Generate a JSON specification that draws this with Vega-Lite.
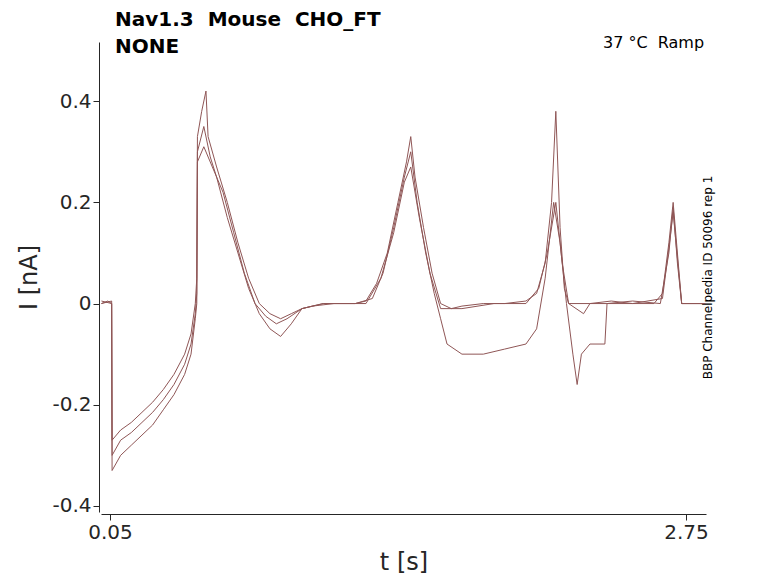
{
  "$schema": "https://vega.github.io/schema/vega-lite/v6.json",
  "autosize": "none",
  "width": 605,
  "height": 470,
  "padding": {"left": 101, "top": 42, "right": 72, "bottom": 71},
  "background": "white",
  "config": {
    "view": {"stroke": null},
    "font": "DejaVu Sans",
    "axis": {"labelFontSize": 20, "titleFontSize": 24, "labelColor": "#262626", "titleColor": "#262626", "titleFontWeight": "normal", "grid": false, "domainColor": "#262626", "tickColor": "#262626"}
  },
  "title": {
    "text": ["Nav1.3\u00a0\u00a0Mouse\u00a0\u00a0CHO_FT", "NONE"],
    "anchor": "start",
    "frame": "group",
    "dx": 14,
    "offset": -22,
    "fontSize": 20,
    "fontWeight": "bold",
    "lineHeight": 27,
    "color": "black"
  },
  "datasets": {
    "traces": [
      {"s": "a", "t": 0.01, "i": 0.0}, {"s": "a", "t": 0.04, "i": 0.005}, {"s": "a", "t": 0.058, "i": 0.0},
      {"s": "a", "t": 0.06, "i": -0.27}, {"s": "a", "t": 0.1, "i": -0.25}, {"s": "a", "t": 0.15, "i": -0.235},
      {"s": "a", "t": 0.2, "i": -0.215}, {"s": "a", "t": 0.25, "i": -0.195}, {"s": "a", "t": 0.3, "i": -0.17},
      {"s": "a", "t": 0.35, "i": -0.14}, {"s": "a", "t": 0.4, "i": -0.1}, {"s": "a", "t": 0.43, "i": -0.06},
      {"s": "a", "t": 0.45, "i": 0.0}, {"s": "a", "t": 0.457, "i": 0.05}, {"s": "a", "t": 0.46, "i": 0.33},
      {"s": "a", "t": 0.48, "i": 0.38}, {"s": "a", "t": 0.5, "i": 0.42}, {"s": "a", "t": 0.51, "i": 0.33},
      {"s": "a", "t": 0.55, "i": 0.27}, {"s": "a", "t": 0.6, "i": 0.2}, {"s": "a", "t": 0.65, "i": 0.12},
      {"s": "a", "t": 0.7, "i": 0.05}, {"s": "a", "t": 0.75, "i": 0.0}, {"s": "a", "t": 0.8, "i": -0.02},
      {"s": "a", "t": 0.85, "i": -0.03}, {"s": "a", "t": 0.9, "i": -0.02}, {"s": "a", "t": 0.95, "i": -0.01},
      {"s": "a", "t": 1.0, "i": -0.005}, {"s": "a", "t": 1.1, "i": 0.0}, {"s": "a", "t": 1.2, "i": 0.0},
      {"s": "a", "t": 1.25, "i": 0.005}, {"s": "a", "t": 1.3, "i": 0.04}, {"s": "a", "t": 1.35, "i": 0.1},
      {"s": "a", "t": 1.4, "i": 0.2}, {"s": "a", "t": 1.44, "i": 0.28}, {"s": "a", "t": 1.46, "i": 0.33},
      {"s": "a", "t": 1.48, "i": 0.25}, {"s": "a", "t": 1.52, "i": 0.15}, {"s": "a", "t": 1.56, "i": 0.06},
      {"s": "a", "t": 1.6, "i": 0.0}, {"s": "a", "t": 1.65, "i": -0.01}, {"s": "a", "t": 1.7, "i": -0.005},
      {"s": "a", "t": 1.8, "i": 0.0}, {"s": "a", "t": 1.9, "i": 0.0}, {"s": "a", "t": 2.0, "i": 0.005},
      {"s": "a", "t": 2.05, "i": 0.02}, {"s": "a", "t": 2.09, "i": 0.08}, {"s": "a", "t": 2.12, "i": 0.2},
      {"s": "a", "t": 2.14, "i": 0.38}, {"s": "a", "t": 2.16, "i": 0.15}, {"s": "a", "t": 2.18, "i": 0.03},
      {"s": "a", "t": 2.2, "i": 0.0}, {"s": "a", "t": 2.3, "i": 0.0}, {"s": "a", "t": 2.4, "i": 0.005},
      {"s": "a", "t": 2.5, "i": 0.0}, {"s": "a", "t": 2.6, "i": 0.0}, {"s": "a", "t": 2.64, "i": 0.02},
      {"s": "a", "t": 2.67, "i": 0.12}, {"s": "a", "t": 2.69, "i": 0.2}, {"s": "a", "t": 2.71, "i": 0.1},
      {"s": "a", "t": 2.73, "i": 0.0}, {"s": "a", "t": 2.8, "i": 0.0}, {"s": "a", "t": 2.84, "i": 0.0},

      {"s": "b", "t": 0.01, "i": 0.005}, {"s": "b", "t": 0.058, "i": 0.0}, {"s": "b", "t": 0.06, "i": -0.33},
      {"s": "b", "t": 0.1, "i": -0.3}, {"s": "b", "t": 0.15, "i": -0.28}, {"s": "b", "t": 0.2, "i": -0.26},
      {"s": "b", "t": 0.25, "i": -0.24}, {"s": "b", "t": 0.3, "i": -0.21}, {"s": "b", "t": 0.35, "i": -0.18},
      {"s": "b", "t": 0.4, "i": -0.14}, {"s": "b", "t": 0.43, "i": -0.1}, {"s": "b", "t": 0.45, "i": -0.03},
      {"s": "b", "t": 0.457, "i": 0.0}, {"s": "b", "t": 0.46, "i": 0.3}, {"s": "b", "t": 0.49, "i": 0.35},
      {"s": "b", "t": 0.52, "i": 0.29}, {"s": "b", "t": 0.55, "i": 0.25}, {"s": "b", "t": 0.6, "i": 0.17},
      {"s": "b", "t": 0.65, "i": 0.1}, {"s": "b", "t": 0.7, "i": 0.03}, {"s": "b", "t": 0.75, "i": -0.02},
      {"s": "b", "t": 0.8, "i": -0.05}, {"s": "b", "t": 0.85, "i": -0.065}, {"s": "b", "t": 0.9, "i": -0.04},
      {"s": "b", "t": 0.95, "i": -0.01}, {"s": "b", "t": 1.05, "i": 0.0}, {"s": "b", "t": 1.2, "i": 0.0},
      {"s": "b", "t": 1.28, "i": 0.01}, {"s": "b", "t": 1.33, "i": 0.06}, {"s": "b", "t": 1.38, "i": 0.15},
      {"s": "b", "t": 1.43, "i": 0.25}, {"s": "b", "t": 1.46, "i": 0.3}, {"s": "b", "t": 1.49, "i": 0.2},
      {"s": "b", "t": 1.53, "i": 0.1}, {"s": "b", "t": 1.57, "i": 0.02}, {"s": "b", "t": 1.6, "i": -0.03},
      {"s": "b", "t": 1.63, "i": -0.08}, {"s": "b", "t": 1.7, "i": -0.1}, {"s": "b", "t": 1.8, "i": -0.1},
      {"s": "b", "t": 1.9, "i": -0.09}, {"s": "b", "t": 2.0, "i": -0.08}, {"s": "b", "t": 2.05, "i": -0.05},
      {"s": "b", "t": 2.09, "i": 0.05}, {"s": "b", "t": 2.13, "i": 0.2}, {"s": "b", "t": 2.16, "i": 0.12},
      {"s": "b", "t": 2.19, "i": 0.0}, {"s": "b", "t": 2.22, "i": -0.1}, {"s": "b", "t": 2.24, "i": -0.16},
      {"s": "b", "t": 2.26, "i": -0.1}, {"s": "b", "t": 2.3, "i": -0.08}, {"s": "b", "t": 2.37, "i": -0.08},
      {"s": "b", "t": 2.38, "i": 0.0}, {"s": "b", "t": 2.5, "i": 0.005}, {"s": "b", "t": 2.63, "i": 0.0},
      {"s": "b", "t": 2.67, "i": 0.1}, {"s": "b", "t": 2.69, "i": 0.19}, {"s": "b", "t": 2.71, "i": 0.08},
      {"s": "b", "t": 2.73, "i": 0.0}, {"s": "b", "t": 2.84, "i": 0.0},

      {"s": "c", "t": 0.01, "i": 0.0}, {"s": "c", "t": 0.058, "i": 0.005}, {"s": "c", "t": 0.06, "i": -0.3},
      {"s": "c", "t": 0.1, "i": -0.27}, {"s": "c", "t": 0.15, "i": -0.255}, {"s": "c", "t": 0.2, "i": -0.235},
      {"s": "c", "t": 0.25, "i": -0.215}, {"s": "c", "t": 0.3, "i": -0.19}, {"s": "c", "t": 0.35, "i": -0.16},
      {"s": "c", "t": 0.4, "i": -0.12}, {"s": "c", "t": 0.43, "i": -0.08}, {"s": "c", "t": 0.45, "i": -0.02},
      {"s": "c", "t": 0.457, "i": 0.02}, {"s": "c", "t": 0.46, "i": 0.28}, {"s": "c", "t": 0.49, "i": 0.31},
      {"s": "c", "t": 0.53, "i": 0.27}, {"s": "c", "t": 0.58, "i": 0.22}, {"s": "c", "t": 0.63, "i": 0.14},
      {"s": "c", "t": 0.68, "i": 0.06}, {"s": "c", "t": 0.73, "i": 0.0}, {"s": "c", "t": 0.78, "i": -0.025},
      {"s": "c", "t": 0.83, "i": -0.04}, {"s": "c", "t": 0.88, "i": -0.03}, {"s": "c", "t": 0.95, "i": -0.01},
      {"s": "c", "t": 1.05, "i": 0.0}, {"s": "c", "t": 1.25, "i": 0.0}, {"s": "c", "t": 1.32, "i": 0.05},
      {"s": "c", "t": 1.38, "i": 0.14}, {"s": "c", "t": 1.43, "i": 0.24}, {"s": "c", "t": 1.46, "i": 0.27},
      {"s": "c", "t": 1.5, "i": 0.17}, {"s": "c", "t": 1.55, "i": 0.06}, {"s": "c", "t": 1.6, "i": -0.01},
      {"s": "c", "t": 1.7, "i": -0.01}, {"s": "c", "t": 1.85, "i": 0.0}, {"s": "c", "t": 2.0, "i": 0.0},
      {"s": "c", "t": 2.06, "i": 0.03}, {"s": "c", "t": 2.1, "i": 0.1}, {"s": "c", "t": 2.14, "i": 0.2},
      {"s": "c", "t": 2.17, "i": 0.08}, {"s": "c", "t": 2.2, "i": 0.0}, {"s": "c", "t": 2.27, "i": -0.02},
      {"s": "c", "t": 2.3, "i": 0.0}, {"s": "c", "t": 2.5, "i": 0.0}, {"s": "c", "t": 2.64, "i": 0.01},
      {"s": "c", "t": 2.67, "i": 0.11}, {"s": "c", "t": 2.69, "i": 0.18}, {"s": "c", "t": 2.71, "i": 0.09},
      {"s": "c", "t": 2.73, "i": 0.0}, {"s": "c", "t": 2.84, "i": 0.0}
    ],
    "notes": [{"t": 2.835, "i": 0.515, "label": "37\u00a0°C\u00a0\u00a0Ramp"}]
  },
  "layer": [
    {
      "data": {"name": "traces"},
      "mark": {"type": "line", "strokeWidth": 1, "color": "#8f5656", "clip": true},
      "encoding": {
        "x": {"field": "t", "type": "quantitative", "title": "t [s]",
          "scale": {"domain": [0.008, 2.844], "nice": false, "zero": false},
          "axis": {"values": [0.05, 2.75], "labelExpr": "'' + datum.value", "tickSize": 6, "titlePadding": 8, "offset": 2}},
        "y": {"field": "i", "type": "quantitative", "title": "I [nA]",
          "scale": {"domain": [-0.412, 0.517], "nice": false, "zero": false},
          "axis": {"values": [-0.4, -0.2, 0, 0.2, 0.4], "labelExpr": "'' + datum.value", "tickSize": 6, "titlePadding": 10, "offset": 2}},
        "detail": {"field": "s"}
      }
    },
    {
      "data": {"name": "notes"},
      "mark": {"type": "text", "align": "right", "baseline": "middle", "fontSize": 16, "color": "black", "clip": false},
      "encoding": {
        "x": {"field": "t", "type": "quantitative"},
        "y": {"field": "i", "type": "quantitative", "title": "BBP Channelpedia ID 50096 rep 1",
          "scale": {"domain": [-0.412, 0.517], "nice": false, "zero": false},
          "axis": {"orient": "right", "labels": false, "ticks": false, "domain": false, "titleFontSize": 12, "titleColor": "black", "titleAngle": 270, "titlePadding": 8}},
        "text": {"field": "label"}
      }
    }
  ],
  "resolve": {"scale": {"y": "independent"}}
}
